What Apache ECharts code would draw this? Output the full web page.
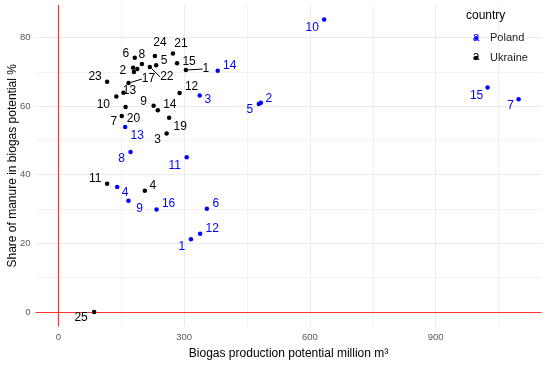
<!DOCTYPE html>
<html>
<head>
<meta charset="utf-8">
<script src="https://cdn.jsdelivr.net/npm/echarts@6/dist/echarts.min.js"></script>
<style>html,body{margin:0;padding:0;background:#fff}#c{width:550px;height:365px}</style>
</head>
<body>
<div id="c"></div>
<script>
// ---- data ----
const polandIds = [1,2,3,4,5,6,7,8,9,10,11,12,13,14,15,16];
const polandX = [316, 483, 337, 140, 478, 354, 1098, 172, 167, 634, 306, 338, 159, 380, 1024, 234];
const polandY = [21.2, 61.0, 63.1, 36.4, 60.6, 30.1, 62.0, 46.6, 32.4, 85.2, 45.1, 22.8, 53.9, 70.3, 65.4, 29.9];

const ukraineIds = [1,2,3,4,5,6,7,8,9,10,11,12,13,14,15,16,17,18,19,20,21,22,23,24,25];
const ukraineX = [304, 180, 258, 206, 233, 182, 151, 199, 227, 138, 116, 289, 155, 237, 283, 178, 167, 188, 264, 160, 273, 218, 116, 230, 85];
const ukraineY = [70.5, 69.9, 52.0, 35.3, 71.9, 74.1, 57.1, 72.3, 60.1, 62.8, 37.4, 63.8, 63.9, 58.8, 72.5, 71.2, 66.7, 70.8, 56.6, 59.7, 75.3, 71.4, 67.1, 74.6, 0];
const ukraineHidden = [16, 18]; // points drawn without labels

const xTickLabels = [0, 300, 600, 900];
const xMinorTicks = [150, 450, 750, 1050];
const yTickLabels = [0, 20, 40, 60, 80];
const yMinorTicks = [10, 30, 50, 70];

// ---- label placement (styling, px offsets from point) ----
const nudgePL = {1:[-9,7],2:[8,-4],3:[8,4],4:[8,6],5:[-9,6],6:[9,-5],7:[-8,6],8:[-9,7],9:[11,8],10:[-12,8],11:[-12,8],12:[12,-5],13:[12,9],14:[12,-5],15:[-11,8],16:[12,-6]};
const nudgeUA = {1:[20,-1],2:[-11,-1],3:[-9,6],4:[8,-5],5:[8,-5],6:[-9,-4],7:[-8,6],8:[0,-9],9:[-10,-4],10:[-13,8],11:[-12,-5],12:[12,-6],13:[6,-2],14:[12,-6],15:[12,-2],17:[20,-4],19:[11,9],20:[8,12],21:[8,-10],22:[17,10],23:[-12,-5],24:[5,-13],25:[-13,6]};
const leaderUA = [1, 17, 22];

const FONT = 'Arial, "Liberation Sans", sans-serif';
const xMin = -54.9, xMax = 1152.9, yMin = -4.26, yMax = 89.46;

function buildData(ids, xs, ys, hidden, leaders) {
  return ids.map((id, i) => {
    const d = { value: [xs[i], ys[i]], name: String(id) };
    if (hidden && hidden.includes(id)) d.label = { show: false };
    if (leaders && leaders.includes(id)) d.labelLine = { show: true };
    return d;
  });
}

const gridLineStyle = { color: '#ebebeb', width: 1, type: 'solid' };
const minorLineStyle = { color: '#f2f2f2', width: 1, type: 'solid' };
const gridMarks = []
  .concat(xTickLabels.map(v => ({ xAxis: v, lineStyle: gridLineStyle })))
  .concat(xMinorTicks.map(v => ({ xAxis: v, lineStyle: minorLineStyle })))
  .concat(yTickLabels.map(v => ({ yAxis: v, lineStyle: gridLineStyle })))
  .concat(yMinorTicks.map(v => ({ yAxis: v, lineStyle: minorLineStyle })));

function scatterSeries(name, color, data, nudge) {
  return {
    name: name,
    type: 'scatter',
    symbol: 'circle',
    symbolSize: 4.5,
    itemStyle: { color: color, opacity: 1 },
    z: 5,
    data: data,
    label: {
      show: true,
      position: 'inside',
      formatter: '{b}',
      color: color,
      fontFamily: FONT,
      fontSize: 12,
      align: 'center',
      verticalAlign: 'middle'
    },
    labelLine: { show: false, lineStyle: { color: color, width: 1 } },
    labelLayout: function (p) {
      const id = Number(p.text);
      const o = nudge[id] || [0, 0];
      return { dx: o[0], dy: o[1] };
    },
    emphasis: { disabled: true }
  };
}

const chart = echarts.init(document.getElementById('c'), null, { renderer: 'canvas' });
chart.setOption({
  animation: false,
  backgroundColor: '#ffffff',
  grid: { left: 35.5, right: 8.4, top: 5, bottom: 38.4, containLabel: false, outerBoundsMode: 'none' },
  xAxis: {
    type: 'value', min: xMin, max: xMax,
    splitLine: { show: false },
    axisLine: { show: false }, axisTick: { show: false },
    axisLabel: { customValues: xTickLabels, color: '#5a5a5a', fontSize: 9.5, fontFamily: FONT, margin: 6 },
    name: 'Biogas production potential million m³',
    nameLocation: 'middle', nameGap: 21, nameMoveOverlap: false,
    nameTextStyle: { color: '#000', fontSize: 12, fontFamily: FONT }
  },
  yAxis: {
    type: 'value', min: yMin, max: yMax,
    splitLine: { show: false },
    axisLine: { show: false }, axisTick: { show: false },
    axisLabel: { customValues: yTickLabels, color: '#5a5a5a', fontSize: 9.5, fontFamily: FONT, margin: 5 },
    name: 'Share of manure in biogas potential %',
    nameLocation: 'middle', nameGap: 17, nameRotate: 90, nameMoveOverlap: false,
    nameTextStyle: { color: '#000', fontSize: 12, fontFamily: FONT }
  },
  legend: {
    data: ['Poland', 'Ukraine'],
    orient: 'vertical', left: 474, top: 32.5, padding: 0, z: 6,
    icon: 'circle', itemWidth: 4, itemHeight: 4, itemGap: 9,
    textStyle: { color: '#222', fontSize: 11, fontFamily: FONT, padding: [0, 0, 0, 7] },
    selectedMode: false
  },
  graphic: [
    { type: 'rect', z: 3, shape: { x: 473, y: 10, width: 56, height: 55 }, style: { fill: '#ffffff' }, silent: true },
    { type: 'text', z: 7, left: 466, top: 10, style: { text: 'country', fill: '#000', font: '12px ' + FONT } },
    { type: 'text', x: 476, y: 37.5, z: 100, style: { text: 'a', fill: '#0000ff', font: '12px ' + FONT, textAlign: 'center', textVerticalAlign: 'middle' } },
    { type: 'text', x: 476, y: 56.5, z: 100, style: { text: 'a', fill: '#000', font: '12px ' + FONT, textAlign: 'center', textVerticalAlign: 'middle' } }
  ],
  series: [
    {
      type: 'scatter', data: [], z: 1, silent: true,
      markLine: { silent: true, symbol: 'none', label: { show: false }, animation: false, data: gridMarks }
    },
    {
      type: 'scatter', data: [], z: 2, silent: true,
      markLine: {
        silent: true, symbol: 'none', label: { show: false }, animation: false,
        lineStyle: { color: '#ff3030', width: 1.2, type: 'solid' },
        data: [{ xAxis: 0 }, { yAxis: 0 }]
      }
    },
    scatterSeries('Poland', '#0000ff', buildData(polandIds, polandX, polandY), nudgePL),
    scatterSeries('Ukraine', '#000000', buildData(ukraineIds, ukraineX, ukraineY, ukraineHidden, leaderUA), nudgeUA)
  ]
});
</script>
</body>
</html>
